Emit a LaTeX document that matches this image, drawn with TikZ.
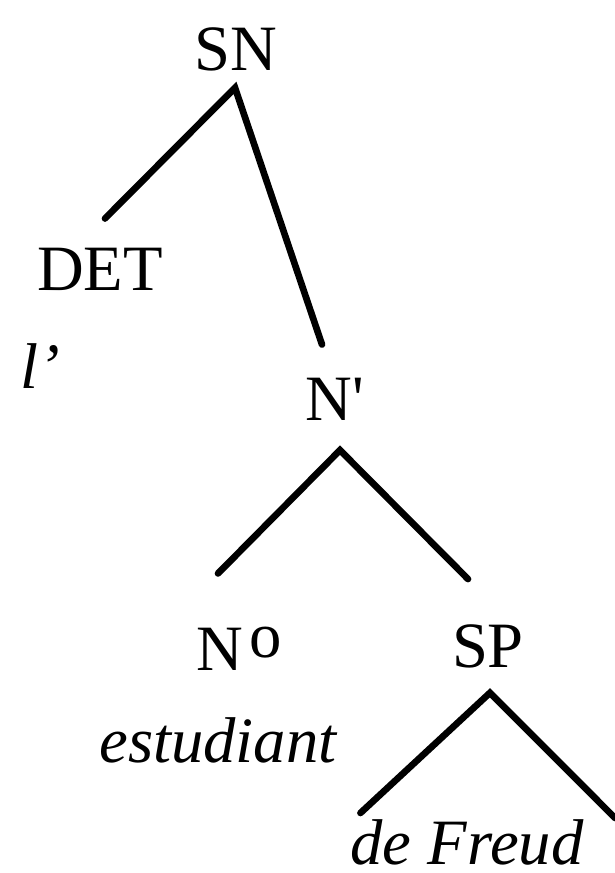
\documentclass[tikz,border=0pt]{standalone}
\usepackage{fontspec}
\setmainfont{Liberation Serif}
\usetikzlibrary{calc}
\begin{document}
\begin{tikzpicture}[x=0.05cm, y=-0.05cm,
  cat/.style={anchor=base, inner sep=0pt, font=\fontsize{92}{100}\selectfont},
  word/.style={cat, font=\fontsize{92}{100}\selectfont\itshape},
  branch/.style={line width=9.5pt, line cap=round, line join=miter}]
\useasboundingbox (0,0) rectangle (615,873);
% Arbre del sintagma nominal
\node[cat] (SN) at (236,70) {SN};
\node[cat] (DET) at (100,290) {DET};
\node[word, anchor=base west] (l) at (20,388) {l'};
\node[cat] (Nbar) at (335,420) {N\textquotesingle};
\node[cat] (N0) at (239,670) {N\kern0.1em\raisebox{0.2em}{o}};
\node[word] (estudiant) at (218,762) {estudiant};
\node[cat] (SP) at (488,667) {SP};
\node[word] (Freud) at (467,864) {de Freud};
\coordinate (SPr) at (615,818);
\draw[branch] ($(DET.north)+(5,-29)$) -- ($(SN.south)+(-1,17)$) -- ($(Nbar.north)+(-13,-33)$);
\draw[branch] ($(N0.north)+(-21,-53)$) -- ($(Nbar.south)+(5,30)$) -- ($(SP.north)+(-20,-45)$);
\draw[branch] ($(Freud.north west)+(10,-6)$) -- ($(SP.south)+(2,25)$) -- (SPr);
\end{tikzpicture}
\end{document}
